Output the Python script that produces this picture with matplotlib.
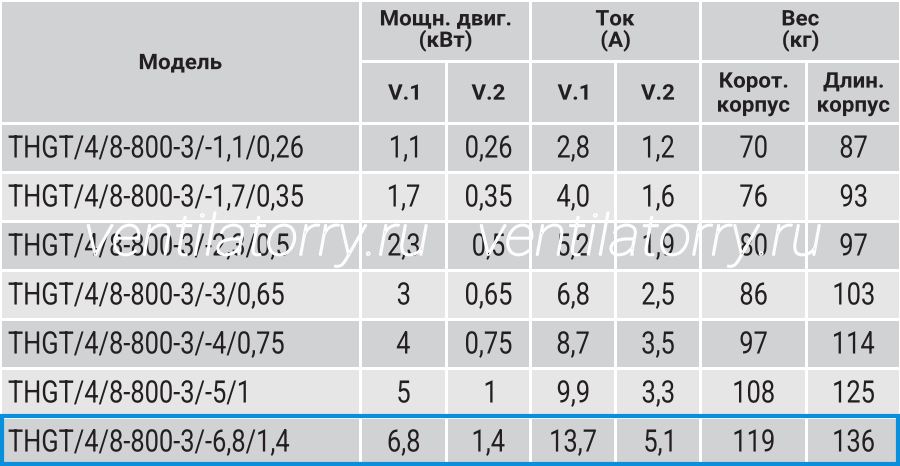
import matplotlib
matplotlib.use("Agg")
import matplotlib.pyplot as plt
from matplotlib.patches import Rectangle, PathPatch
from matplotlib.textpath import TextPath
from matplotlib.font_manager import FontProperties
from matplotlib.transforms import Affine2D

models = [
    "THGT/4/8-800-3/-1,1/0,26",
    "THGT/4/8-800-3/-1,7/0,35",
    "THGT/4/8-800-3/-2,3/0,5",
    "THGT/4/8-800-3/-3/0,65",
    "THGT/4/8-800-3/-4/0,75",
    "THGT/4/8-800-3/-5/1",
    "THGT/4/8-800-3/-6,8/1,4",
]
power_v1 = [1.1, 1.7, 2.3, 3, 4, 5, 6.8]
power_v2 = [0.26, 0.35, 0.5, 0.65, 0.75, 1, 1.4]
current_v1 = ["2,8", "4,0", "5,2", "6,8", "8,7", "9,9", "13,7"]
current_v2 = [1.2, 1.6, 1.9, 2.5, 3.5, 3.3, 5.1]
weight_short = [70, 76, 80, 86, 97, 108, 119]
weight_long = [87, 93, 97, 103, 114, 125, 136]

group_headers = ["Мощн. двиг.\n(кВт)", "Ток\n(А)", "Вес\n(кг)"]
sub_headers = ["V.1", "V.2", "V.1", "V.2", "Корот.\nкорпус", "Длин.\nкорпус"]
first_header = "Модель"


def fmt(v):
    return str(v).replace(".", ",")


W, H = 900, 466
col_x = [0, 360, 446, 530, 615, 700, 806, 900]
row_y = [0, 61, 123, 172, 221, 270, 319, 368, 417, 466]

dark = "#d1d2d4"
light = "#e6e6e7"
txt = "#231f20"
gap = 1.5

fig = plt.figure(figsize=(W / 100, H / 100), dpi=100)
fig.patch.set_facecolor("white")
ax = fig.add_axes([0, 0, 1, 1])
ax.set_xlim(0, W)
ax.set_ylim(H, 0)
ax.axis("off")

body_fp = FontProperties(family="Roboto", weight="regular")
head_fp = FontProperties(family="Roboto", weight="bold")


def put(s, x, yc, size, prop, ha="center", sx=1.0, lead=1.0):
    # draw text as paths so it can be narrowed like the condensed original
    lines = s.split("\n")
    cap = 0.711 * size
    step = lead * size
    top = yc - (cap + step * (len(lines) - 1)) / 2
    for i, line in enumerate(lines):
        tp = TextPath((0, 0), line, size=size, prop=prop)
        w = tp.get_extents().x1 * sx
        x0 = x if ha == "left" else x - w / 2
        base = top + cap + i * step
        tr = Affine2D().scale(sx, -1).translate(x0, base) + ax.transData
        ax.add_patch(PathPatch(tp, transform=tr, facecolor=txt, edgecolor="none",
                               zorder=3))


def cell(x0, x1, y0, y1, color):
    ax.add_patch(Rectangle((x0 + gap, y0 + gap), x1 - x0 - 2 * gap, y1 - y0 - 2 * gap,
                           facecolor=color, edgecolor="none", zorder=1))


HS = 21.5
# header
cell(col_x[0], col_x[1], row_y[0], row_y[2], dark)
put(first_header, (col_x[0] + col_x[1]) / 2, row_y[2] / 2, HS, head_fp, sx=1.04)
for g, lab in enumerate(group_headers):
    x0, x1 = col_x[1 + 2 * g], col_x[3 + 2 * g]
    cell(x0, x1, row_y[0], row_y[1], dark)
    put(lab, (x0 + x1) / 2, (row_y[0] + row_y[1]) / 2 - 2, HS, head_fp, sx=1.04, lead=1.0)
for c, lab in enumerate(sub_headers):
    x0, x1 = col_x[1 + c], col_x[2 + c]
    cell(x0, x1, row_y[1], row_y[2], dark)
    put(lab, (x0 + x1) / 2, (row_y[1] + row_y[2]) / 2, HS, head_fp, sx=1.04, lead=1.12)

# body
BS = 31
columns = [power_v1, power_v2, current_v1, current_v2, weight_short, weight_long]
for r, model in enumerate(models):
    y0, y1 = row_y[2 + r], row_y[3 + r]
    color = dark if r % 2 == 0 else light
    yc = (y0 + y1) / 2 - 1
    cell(col_x[0], col_x[1], y0, y1, color)
    put(model, 8, yc, BS, body_fp, ha="left", sx=0.82)
    for c, vals in enumerate(columns):
        x0, x1 = col_x[1 + c], col_x[2 + c]
        cell(x0, x1, y0, y1, color)
        put(fmt(vals[r]), (x0 + x1) / 2, yc, BS, body_fp, sx=0.82)

# highlighted last row
ax.add_patch(Rectangle((2, row_y[-2] - 1.5), W - 4, row_y[-1] - row_y[-2] - 0.5,
                       facecolor="none", edgecolor="#0a8fdc", linewidth=3, zorder=4))

# watermark
wm = FontProperties(family="Roboto", style="italic", weight="light")
for x in [84, 477]:
    tp = TextPath((0, 0), "ventilatorry.ru", size=57, prop=wm)
    tr = Affine2D().scale(1.06, -1).translate(x, 255) + ax.transData
    ax.add_patch(PathPatch(tp, transform=tr, facecolor="none", edgecolor="white",
                           linewidth=1.1, zorder=5))

fig.savefig("out.png", dpi=100, facecolor="white")
